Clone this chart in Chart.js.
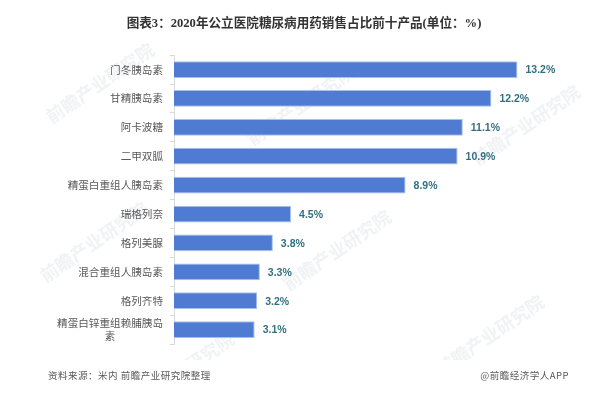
<!DOCTYPE html>
<html>
<head>
<meta charset="utf-8">
<style>
  html, body { margin: 0; padding: 0; background: #fff; }
  #wrap { width: 608px; height: 403px; }
  #chart { filter: blur(0.35px); }
</style>
<script src="https://cdn.jsdelivr.net/npm/chart.js@4"></script>
</head>
<body>
<div id="wrap"><canvas id="chart" width="608" height="403"></canvas></div>
<script>
const categories = ['门冬胰岛素', '甘精胰岛素', '阿卡波糖', '二甲双胍', '精蛋白重组人胰岛素', '瑞格列奈', '格列美脲', '混合重组人胰岛素', '格列齐特', ['精蛋白锌重组赖脯胰岛', '素\u3000\u3000\u3000\u3000\u2002']];
const shares = [13.2, 12.2, 11.1, 10.9, 8.9, 4.5, 3.8, 3.3, 3.2, 3.1];
const titleText = '图表3：2020年公立医院糖尿病用药销售占比前十产品(单位：%)';
const sourceText = '资料来源：米内 前瞻产业研究院整理';
const creditText = '@前瞻经济学人APP';
const watermarkText = '前瞻产业研究院';
const watermarkSpots = [[100, 83], [301, 105], [526, 125], [94, 242], [337, 250], [490, 335], [180, 372]];

const cjkSans = '"Noto Sans CJK SC", sans-serif';
const cjkTitle = '"Liberation Serif", "Noto Sans CJK SC", serif';

// Faint site watermark behind everything
const watermarkPlugin = {
    id: 'watermark',
    beforeDraw: function(chart) {
        const ctx = chart.ctx;
        ctx.save();
        ctx.beginPath();
        ctx.rect(0, 0, 608, 360);
        ctx.clip();
        ctx.font = 'bold 18px ' + cjkSans;
        ctx.fillStyle = '#f1f2f5';
        ctx.textAlign = 'center';
        ctx.textBaseline = 'middle';
        watermarkSpots.forEach(function(spot) {
            ctx.save();
            ctx.translate(spot[0], spot[1]);
            ctx.rotate(-0.6);
            ctx.fillText(watermarkText, 0, 0);
            ctx.restore();
        });
        ctx.restore();
    }
};

// Value labels at the bar ends and the source line
const labelPlugin = {
    id: 'labels',
    afterDatasetsDraw: function(chart) {
        const ctx = chart.ctx;
        ctx.save();
        ctx.font = 'bold 10.5px "Liberation Sans", sans-serif';
        ctx.fillStyle = '#33707f';
        ctx.textAlign = 'left';
        ctx.textBaseline = 'middle';
        chart.getDatasetMeta(0).data.forEach(function(bar, i) {
            ctx.fillText(shares[i].toFixed(1) + '%', bar.x + 8, bar.y + 1);
        });
        ctx.restore();
    },
    afterDraw: function(chart) {
        const ctx = chart.ctx;
        ctx.save();
        ctx.font = '9.5px ' + cjkSans;
        ctx.fillStyle = '#595959';
        ctx.textBaseline = 'middle';
        ctx.letterSpacing = '0.5px';
        ctx.textAlign = 'left';
        ctx.fillText(sourceText, 48, 375);
        ctx.textAlign = 'right';
        ctx.fillText(creditText, 569, 375);
        ctx.restore();
    }
};

new Chart(document.getElementById('chart').getContext('2d'), {
    type: 'bar',
    data: {
        labels: categories,
        datasets: [{
            data: shares,
            backgroundColor: '#4f7bd3',
            borderColor: '#a8c0ec',
            borderWidth: 1,
            barPercentage: 0.58,
            categoryPercentage: 1
        }]
    },
    options: {
        indexAxis: 'y',
        responsive: false,
        animation: false,
        layout: { padding: { top: 0, bottom: 59, left: 0, right: 0 } },
        plugins: {
            legend: { display: false },
            tooltip: { enabled: false },
            title: {
                display: true,
                text: titleText,
                color: '#333333',
                font: { family: cjkTitle, size: 12.6, weight: 'bold', lineHeight: 1.2 },
                padding: { top: 16, bottom: 24 }
            }
        },
        scales: {
            x: { display: false, min: 0, max: 16.68 },
            y: {
                afterFit: function(scale) { scale.width = 174; },
                border: { color: '#d9d9d9' },
                grid: { drawOnChartArea: false, color: '#d9d9d9', tickLength: 4, offset: true },
                ticks: {
                    color: '#595959',
                    padding: 7,
                    autoSkip: false,
                    font: { family: cjkSans, size: 10.6, lineHeight: 1.25 }
                }
            }
        }
    },
    plugins: [watermarkPlugin, labelPlugin]
});
</script>
</body>
</html>
